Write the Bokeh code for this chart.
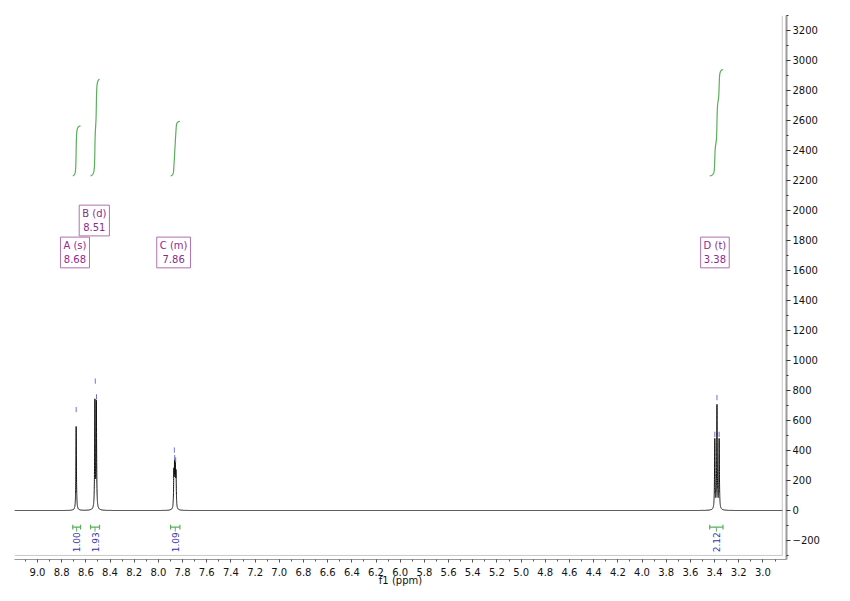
import numpy as np
from bokeh.plotting import figure
from bokeh.models import Range1d, SingleIntervalTicker, PrintfTickFormatter, ColumnDataSource
from bokeh.embed import file_html
from bokeh.resources import INLINE
from bokeh.core.properties import value

# ---- data ----
peak_ppm = [8.680, 8.525, 8.513, 7.872, 7.866, 7.860, 7.854, 3.398, 3.380, 3.362]
peak_height = [560, 715, 705, 230, 260, 250, 220, 465, 690, 465]

marker_ppm = [8.680, 8.522, 8.512, 7.868, 7.865, 7.857, 3.398, 3.380, 3.362]
marker_y = [655, 845, 740, 385, 335, 320, 490, 735, 490]

int_start = [8.708, 8.561, 7.899, 3.440]
int_end = [8.644, 8.487, 7.822, 3.330]
int_value = [1.00, 1.93, 1.09, 2.12]
int_label = ["1.00", "1.93", "1.09", "2.12"]

mult_ppm = [8.690, 8.530, 7.874, 3.397]
mult_y = [1720, 1933, 1720, 1720]
mult_text = ["A (s)\n8.68", "B (d)\n8.51", "C (m)\n7.86", "D (t)\n3.38"]

# ---- style / layout constants ----
GAMMA = 0.0025
X_LEFT, X_RIGHT = 9.19, 2.805
FRAME_X = 2.84
Y_BOTTOM, Y_TOP = -327, 3300
FRAME_Y = -300
INT_BASE, INT_SCALE = 2230, 335
BRACKET_Y = -111
CAP = 16
MARK_LEN = 35
FONT = value("DejaVu Sans")

# ---- spectrum from peak list (Lorentzian lines) ----
x = np.linspace(X_LEFT, FRAME_X, 30000)
y = np.zeros_like(x)
for c, h in zip(peak_ppm, peak_height):
    y += h / (1.0 + ((x - c) / GAMMA) ** 2)

p = figure(width=842, height=593,
           x_range=Range1d(X_LEFT, X_RIGHT), y_range=Range1d(Y_BOTTOM, Y_TOP),
           y_axis_location="right", output_backend="svg", toolbar_location=None,
           min_border_left=14, min_border_right=56, min_border_top=15, min_border_bottom=34)
p.grid.visible = False
p.outline_line_color = None
p.background_fill_color = "white"
p.border_fill_color = "white"

# inner frame (bottom + right)
p.line([X_LEFT, FRAME_X, FRAME_X], [FRAME_Y, FRAME_Y, Y_TOP], line_color="#c8c8c8", line_width=1)

# spectrum
p.line(x, y, line_color="#111111", line_width=1)

# peak pick markers
p.segment(x0=marker_ppm, y0=marker_y, x1=marker_ppm,
          y1=[v + MARK_LEN for v in marker_y], line_color="#6f6fd6", line_width=1)

# integrals
for s, e, v in zip(int_start, int_end, int_value):
    m = (x <= s) & (x >= e)
    xs = x[m]
    cs = np.cumsum(y[m])
    frac = (cs - cs[0]) / (cs[-1] - cs[0])
    p.line(xs, INT_BASE + INT_SCALE * v * frac, line_color="#5aae5a", line_width=1.2)

# integral brackets
mid = [(s + e) / 2 for s, e in zip(int_start, int_end)]
p.segment(x0=int_start, y0=[BRACKET_Y] * 4, x1=int_end, y1=[BRACKET_Y] * 4,
          line_color="#5aae5a", line_width=1.2)
p.segment(x0=int_start, y0=[BRACKET_Y - CAP] * 4, x1=int_start, y1=[BRACKET_Y + CAP] * 4,
          line_color="#5aae5a", line_width=1.2)
p.segment(x0=int_end, y0=[BRACKET_Y - CAP] * 4, x1=int_end, y1=[BRACKET_Y + CAP] * 4,
          line_color="#5aae5a", line_width=1.2)
p.segment(x0=mid, y0=[BRACKET_Y] * 4, x1=mid, y1=[BRACKET_Y - 30] * 4,
          line_color="#5aae5a", line_width=1)
p.text(x=mid, y=[BRACKET_Y - 34] * 4, text=int_label, angle=np.pi / 2,
       text_align="right", text_baseline="middle", text_font=FONT,
       text_font_size="9px", text_color="#3535a8")

# multiplet labels
src = ColumnDataSource(dict(x=mult_ppm, y=mult_y, t=mult_text))
p.text(x="x", y="y", text="t", source=src, text_align="center", text_baseline="middle",
       text_font=FONT, text_font_size="10px", text_color="#8e2a8e", text_line_height=1.25,
       border_line_color="#b070b0", border_line_width=1, background_fill_color="white",
       padding=3)

# axes
p.yaxis.ticker = SingleIntervalTicker(interval=200, num_minor_ticks=2)
p.yaxis.axis_line_color = "#9a9a9a"
p.yaxis.axis_line_width = 2
p.yaxis.major_tick_line_color = "#333333"
p.yaxis.minor_tick_line_color = "#333333"
p.yaxis.major_tick_in = 0
p.yaxis.major_tick_out = 4
p.yaxis.minor_tick_in = 0
p.yaxis.minor_tick_out = 2
p.yaxis.major_label_text_font = "DejaVu Sans"
p.yaxis.major_label_text_font_size = "10px"
p.yaxis.major_label_text_color = "#111111"
p.yaxis.major_label_standoff = 2

p.xaxis.ticker = SingleIntervalTicker(interval=0.2, num_minor_ticks=2)
p.xaxis.formatter = PrintfTickFormatter(format="%.1f")
p.xaxis.axis_line_color = "#9a9a9a"
p.xaxis.major_tick_line_color = "#555555"
p.xaxis.minor_tick_line_color = "#555555"
p.xaxis.major_tick_in = 0
p.xaxis.major_tick_out = 3
p.xaxis.minor_tick_in = 0
p.xaxis.minor_tick_out = 2
p.xaxis.major_label_text_font = "DejaVu Sans"
p.xaxis.major_label_text_font_size = "10px"
p.xaxis.major_label_text_color = "#111111"
p.xaxis.major_label_standoff = 5
p.xaxis.axis_label = "f1 (ppm)"
p.xaxis.axis_label_text_font = "DejaVu Sans"
p.xaxis.axis_label_text_font_size = "10px"
p.xaxis.axis_label_text_font_style = "normal"
p.xaxis.axis_label_text_color = "#111111"
p.xaxis.axis_label_standoff = -4

open("out.html", "w").write(file_html(p, INLINE))
